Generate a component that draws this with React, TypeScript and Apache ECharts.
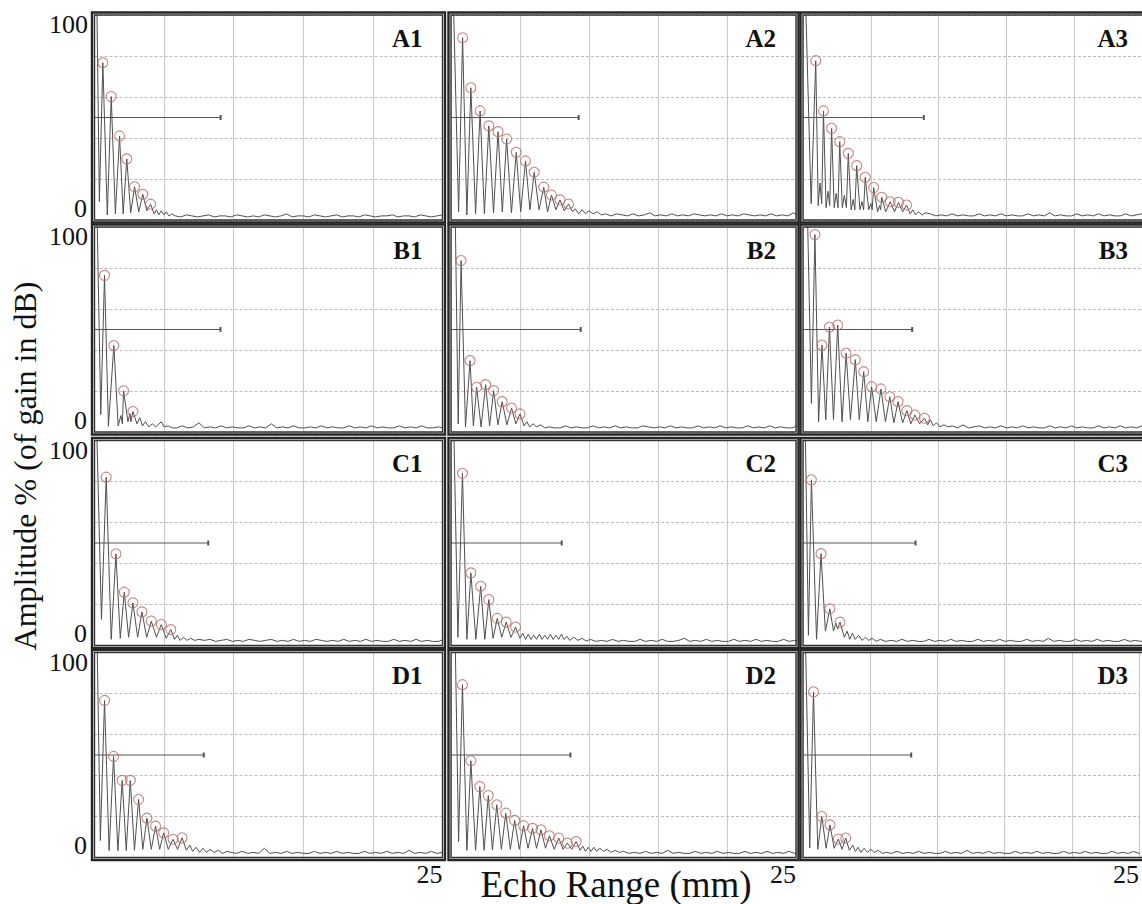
import React, { useEffect, useRef } from "react";
import * as echarts from "echarts";

// ---------- DATA (mm along echo range, % amplitude) ----------
const panelNames = ["A1", "A2", "A3", "B1", "B2", "B3", "C1", "C2", "C3", "D1", "D2", "D3"];
const xMax = 25;
const yMax = 100;
const gateLevel = 50;
const tailStep = 0.4;

// echo peaks (circled)
const A1_peakX = [0.6, 1.2, 1.8, 2.32, 2.88, 3.47, 4.03];
const A1_peakY = [76.7, 60.2, 41, 29.8, 16.2, 12.5, 7.7];
const A2_peakX = [0.84, 1.44, 2.11, 2.74, 3.41, 4.03, 4.73, 5.4, 6.03, 6.72, 7.28, 7.9, 8.52];
const A2_peakY = [88.9, 64.5, 53.2, 45.9, 43.1, 39.5, 33.0, 28.8, 23.3, 16.0, 12.2, 9.8, 7.8];
const A3_peakX = [0.94, 1.51, 2.11, 2.71, 3.34, 3.96, 4.59, 5.21, 5.81, 6.43, 7.04, 7.64];
const A3_peakY = [77.7, 53.2, 44.7, 38.2, 32.5, 26.5, 20.8, 15.8, 11.1, 8.9, 8.6, 7.3];
const B1_peakX = [0.72, 1.39, 2.09, 2.76];
const B1_peakY = [76.4, 42.2, 20.1, 10.0];
const B2_peakX = [0.73, 1.38, 1.86, 2.51, 3.09, 3.71, 4.39, 5.0];
const B2_peakY = [83.6, 34.8, 21.8, 23.1, 20.2, 14.8, 11.7, 8.8];
const B3_peakX = [0.88, 1.4, 1.95, 2.56, 3.18, 3.86, 4.48, 5.06, 5.75, 6.4, 7.01, 7.66, 8.25, 8.96];
const B3_peakY = [96.3, 42.4, 51.1, 52.2, 38.5, 35.3, 29.4, 22.1, 21.0, 17.2, 14.8, 10.4, 8.3, 6.7];
const C1_peakX = [0.84, 1.54, 2.14, 2.76, 3.41, 4.08, 4.8, 5.48];
const C1_peakY = [82.1, 44.7, 26.0, 20.8, 16.4, 11.9, 10.2, 7.8];
const C2_peakX = [0.83, 1.44, 2.15, 2.74, 3.35, 4.0, 4.68];
const C2_peakY = [84.0, 35.4, 28.9, 22.4, 13.2, 11.4, 9.0];
const C3_peakX = [0.62, 1.33, 1.98, 2.73];
const C3_peakY = [80.8, 44.8, 17.9, 11.4];
const D1_peakX = [0.72, 1.37, 1.99, 2.57, 3.17, 3.77, 4.39, 4.97, 5.64, 6.29];
const D1_peakY = [76.6, 49.3, 37.6, 37.6, 28.3, 19.2, 15.3, 12.0, 8.9, 9.6];
const D2_peakX = [0.83, 1.44, 2.09, 2.7, 3.32, 3.97, 4.61, 5.26, 5.91, 6.52, 7.13, 7.81, 8.43, 9.07];
const D2_peakY = [84.3, 47.2, 34.6, 30.2, 25.7, 21.6, 18.1, 15.5, 14.2, 13.5, 10.6, 9.5, 7.0, 7.8];
const D3_peakX = [0.78, 1.4, 2.01, 2.63, 3.18];
const D3_peakY = [80.8, 20.0, 15.9, 9.0, 9.5];

// initial pulse, troughs and early ripples [mm, %]
const A1_rest = [[0.05, 100], [0.18, 100], [0.35, 9], [0.92, 2.5], [1.5, 3], [2.06, 3], [2.6, 3.5], [3.18, 4], [3.76, 4.5], [4.28, 3], [4.45, 5], [4.62, 2.5], [4.8, 4.5], [4.98, 2.5], [5.15, 4], [5.35, 2], [5.55, 3]];
const A2_rest = [[0.1, 100], [0.2, 100], [0.55, 4], [1.15, 2.5], [1.78, 3], [2.42, 3], [3.08, 3.5], [3.72, 4], [4.38, 3.5], [5.05, 4], [5.72, 5], [6.38, 5], [7.0, 4], [7.6, 5], [8.2, 4.5], [8.8, 4], [9.0, 5.5], [9.25, 3], [9.5, 5], [9.75, 3], [10.0, 4.5], [10.3, 3], [10.6, 4], [10.9, 2.5]];
const A3_rest = [[0.12, 100], [0.22, 100], [0.6, 8], [1.12, 7], [1.25, 18], [1.38, 8], [1.7, 6], [1.85, 14], [1.97, 7], [2.3, 6], [2.45, 13], [2.58, 6], [2.9, 6], [3.05, 12], [3.2, 6], [3.55, 5], [3.7, 10], [3.82, 5], [4.2, 5], [4.35, 9], [4.47, 5], [4.85, 5], [5.0, 8], [5.1, 5], [5.5, 4], [5.65, 7], [5.72, 5], [6.1, 4], [6.75, 4], [7.35, 4], [7.9, 3], [8.1, 5], [8.3, 2.5], [8.5, 4], [8.8, 2.5], [9.0, 3.5]];
const B1_rest = [[0.1, 100], [0.2, 100], [0.45, 8.5], [1.0, 2.8], [1.7, 3], [1.9, 8], [2.0, 4], [2.4, 5], [2.55, 9], [2.62, 5], [3.05, 4], [3.25, 7], [3.45, 3], [3.65, 5], [3.9, 2.5], [4.15, 4], [4.4, 2.5], [4.8, 5], [5.0, 2.5], [5.3, 3], [5.6, 2]];
const B2_rest = [[0.2, 100], [0.32, 100], [0.52, 4], [1.05, 2.5], [1.62, 3], [2.18, 2.5], [2.8, 3], [3.4, 3.5], [4.05, 3.5], [4.7, 4], [5.3, 3], [5.5, 5], [5.7, 2.5], [5.95, 4], [6.2, 2.5], [6.5, 3.5], [6.8, 2]];
const B3_rest = [[0.2, 100], [0.35, 100], [0.62, 14], [1.15, 5], [1.68, 6], [2.25, 6], [2.88, 5], [3.5, 6], [4.15, 6], [4.78, 5], [5.4, 5], [6.08, 5], [6.7, 4.5], [7.35, 4.5], [7.95, 4], [8.6, 4], [9.2, 3.5], [9.4, 6], [9.6, 3], [9.85, 4.5], [10.1, 2.5], [10.4, 3.5], [10.7, 2.5]];
const C1_rest = [[0.08, 100], [0.18, 100], [0.5, 12.7], [1.2, 3], [1.85, 3.5], [2.45, 4], [3.1, 4], [3.75, 4], [4.45, 4], [5.15, 3.5], [5.75, 3], [5.95, 5], [6.15, 2.5], [6.4, 4], [6.65, 2.5], [6.9, 3.5], [7.2, 2.5]];
const C2_rest = [[0.1, 100], [0.22, 100], [0.5, 4], [1.15, 3], [1.8, 3], [2.45, 3], [3.05, 3.5], [3.68, 4], [4.35, 4], [5.0, 3.5], [5.2, 6], [5.4, 3], [5.6, 5.5], [5.8, 3], [6.0, 5], [6.2, 3], [6.4, 5.5], [6.6, 3], [6.8, 5], [7.0, 3], [7.2, 5.5], [7.4, 3], [7.6, 5], [7.8, 3], [8.0, 5.5], [8.2, 3], [8.4, 4.5], [8.6, 2.5], [8.9, 4], [9.2, 2.5], [9.5, 3.5], [9.8, 2.2]];
const C3_rest = [[0.08, 100], [0.18, 100], [0.4, 5], [1.0, 3], [1.65, 7], [2.25, 7], [2.42, 11], [2.55, 8], [3.05, 4], [3.25, 7], [3.45, 3], [3.65, 6], [3.85, 3], [4.1, 5], [4.35, 2.5], [4.6, 4], [4.85, 2.5], [5.1, 3.5], [5.4, 2]];
const D1_rest = [[0.1, 100], [0.2, 100], [0.42, 8.3], [1.05, 3.4], [1.68, 3.4], [2.28, 3.4], [2.87, 3.5], [3.47, 4], [4.08, 4], [4.68, 4], [5.3, 4], [5.97, 4], [6.6, 3.5], [6.85, 6], [7.05, 3], [7.3, 5], [7.55, 2.5], [7.8, 4.5], [8.05, 2.5], [8.3, 4], [8.6, 2.5], [8.9, 3.5], [9.2, 2], [9.5, 3]];
const D2_rest = [[0.2, 100], [0.32, 100], [0.55, 7.8], [1.15, 3.5], [1.78, 3.5], [2.4, 3.5], [3.0, 3.8], [3.65, 4], [4.3, 4], [4.95, 4], [5.58, 4.5], [6.2, 4.5], [6.85, 4.5], [7.48, 4], [8.12, 4], [8.75, 4], [9.35, 3.5], [9.55, 5.5], [9.75, 3], [9.95, 5], [10.15, 3], [10.35, 5], [10.55, 3], [10.8, 4.5], [11.05, 3], [11.3, 4], [11.6, 2.5], [11.9, 3.5], [12.2, 2.5]];
const D3_rest = [[0.1, 100], [0.2, 100], [0.5, 4.6], [1.1, 4], [1.72, 4.5], [2.32, 4.5], [2.9, 4], [3.45, 3.5], [3.7, 6], [3.9, 3], [4.1, 5], [4.3, 2.5], [4.55, 4.5], [4.8, 2.5], [5.05, 4], [5.3, 2.5], [5.6, 3.5], [5.9, 2]];

// background noise after the echoes, sampled every tailStep mm from its start
const tailStart = [5.8, 11.2, 9.4, 5.9, 7.1, 11.0, 7.5, 10.1, 5.7, 9.8, 12.5, 6.2];
const A1_tail = [2, 1.5, 2.5, 2, 1.5, 2, 2.5, 1.5, 2, 2, 1.5, 2.5, 2, 1.5, 2, 1.5, 2.5, 2, 1.5, 2, 3, 1.5, 2, 2, 1.5, 2.5, 2, 1.5, 2, 2.5, 1.5, 2, 2, 1.5, 2.5, 2, 1.5, 2, 2, 2.5, 1.5, 2, 2, 1.5, 2.5, 2, 1.5, 2, 2.5, 1.5];
const A2_tail = [3, 2, 3, 2.5, 2, 3, 2, 2.5, 3.5, 2, 2.5, 2, 3, 2, 2.5, 2, 3, 2.5, 2, 2.5, 2, 3, 2, 2.5, 2, 3, 2.5, 2, 2.5, 2, 3, 2, 2.5, 2, 3.5, 2, 2.5, 2, 3, 2, 2.5, 2, 3, 2.5, 2, 2.5, 2, 3, 2, 2.5];
const A3_tail = [3, 2, 2.5, 2, 3, 2, 2.5, 2, 2, 3, 2, 2.5, 2, 3, 2, 2.5, 2, 2, 3, 2, 2.5, 2, 3.5, 2, 2.5, 2, 2, 3, 2, 2.5, 2, 3, 2, 2.5, 2, 2, 3, 2, 2.5, 3, 2, 2.5, 2, 3, 2, 2.5, 2, 3, 2, 2.5];
const B1_tail = [2, 3, 2, 2.5, 4.5, 2, 2.5, 2, 3, 2, 2.5, 2, 2, 3, 2, 2.5, 2, 4, 2, 2.5, 2, 3, 2, 2, 2.5, 2, 3, 2, 2.5, 2, 2, 3, 2, 2.5, 2, 3, 2, 2.5, 2, 2, 3, 2, 2.5, 2, 3, 2, 2, 2.5, 2, 3];
const B2_tail = [2.5, 2, 2, 3, 2, 2.5, 2, 2, 3, 2, 2.5, 2, 3, 2, 2.5, 2, 2, 3, 2.5, 2, 2.5, 2, 3, 2, 2.5, 2, 2, 3, 2, 2.5, 2, 3, 2, 2.5, 2, 2, 3, 2, 2.5, 2, 3, 2, 2.5, 2, 2, 3, 2, 2.5, 2, 2];
const B3_tail = [3, 2, 3.5, 2, 2.5, 3, 2, 2.5, 2, 3, 2, 2.5, 2, 3, 2, 2.5, 2, 2, 3, 2, 2.5, 2, 3, 2, 2.5, 2, 2, 3, 2, 2.5, 2, 3, 2, 2.5, 2, 3, 2, 2.5, 2, 2, 3, 2, 2.5, 2, 3, 2, 2.5, 2, 2, 3];
const C1_tail = [3, 2.5, 3, 2, 2.5, 3, 2, 2.5, 2, 3, 2.5, 2, 2.5, 3, 2, 2.5, 2, 3, 2, 2.5, 2, 3, 2.5, 2, 2.5, 2, 3, 2, 2.5, 2, 3, 2, 2.5, 2, 2, 3, 2, 2.5, 2, 3, 2, 2.5, 2, 2, 3, 2, 2.5, 2, 3, 2];
const C2_tail = [3, 2, 2.5, 2, 3, 2, 2.5, 2, 2, 3, 2, 2.5, 2, 3, 2, 2, 2.5, 3.5, 2, 2.5, 2, 3, 2, 2.5, 2, 2, 3, 2, 2.5, 2, 3, 2, 2.5, 2, 2, 3, 2, 2.5, 2, 3, 2, 2.5, 2, 2, 3, 2, 2.5, 2, 3, 2];
const C3_tail = [3, 2, 2.5, 2, 3, 2, 2.5, 2, 2, 3, 2, 2.5, 2, 3, 2, 2.5, 2, 2, 3, 2, 2.5, 2, 3, 2, 2.5, 2, 2, 3, 2, 2.5, 2, 3.5, 2, 2.5, 2, 2, 3, 2, 2.5, 2, 3, 2, 2.5, 2, 2, 3, 2, 2.5, 2, 3];
const D1_tail = [2.5, 2, 3, 2, 2.5, 2, 4.5, 2, 2.5, 2, 3, 2, 2.5, 2, 2, 3, 2, 2.5, 2, 3, 2, 2.5, 2, 2, 3, 2, 2.5, 2, 3, 2, 2.5, 2, 3.5, 2, 2.5, 2, 3, 2, 2.5, 2, 2, 3, 2, 2.5, 2, 3, 2, 2.5, 2, 2];
const D2_tail = [3, 2, 2.5, 2, 3, 2, 2.5, 2, 3.5, 2, 2.5, 2, 2, 3, 2, 2.5, 2, 3, 2, 2.5, 2, 2, 3, 2, 2.5, 2, 3, 2, 2.5, 2, 3, 2, 2.5, 2, 2, 3, 2, 2.5, 2, 3, 2, 2.5, 2, 2, 3, 2, 2.5, 2, 3, 2];
const D3_tail = [2.5, 2, 3, 2, 2.5, 2, 3, 2, 2.5, 2, 2, 3, 2, 2.5, 2, 3.5, 2, 2.5, 2, 3, 2, 2.5, 2, 2, 3, 2, 2.5, 2, 3, 2, 2.5, 2, 2, 3, 2, 2.5, 2, 3, 2, 2.5, 2, 2, 3, 2, 2.5, 2, 3, 2, 2.5, 2];

// gate (horizontal line at 50 %) end positions, mm
const gateEnd = [9.06, 9.25, 8.91, 9.05, 9.4, 8.05, 8.17, 8.02, 8.3, 7.85, 8.65, 8.05];

const peakXs = [A1_peakX, A2_peakX, A3_peakX, B1_peakX, B2_peakX, B3_peakX, C1_peakX, C2_peakX, C3_peakX, D1_peakX, D2_peakX, D3_peakX];
const peakYs = [A1_peakY, A2_peakY, A3_peakY, B1_peakY, B2_peakY, B3_peakY, C1_peakY, C2_peakY, C3_peakY, D1_peakY, D2_peakY, D3_peakY];
const rests = [A1_rest, A2_rest, A3_rest, B1_rest, B2_rest, B3_rest, C1_rest, C2_rest, C3_rest, D1_rest, D2_rest, D3_rest];
const tails = [A1_tail, A2_tail, A3_tail, B1_tail, B2_tail, B3_tail, C1_tail, C2_tail, C3_tail, D1_tail, D2_tail, D3_tail];

// ---------- LAYOUT ----------
const COL_LEFT = [94.5, 451, 803];
const COL_W = [348, 345, 345];
const ROW_TOP = [15, 227, 440.5, 652.5];
const ROW_H = 205;
const SERIF = "'Liberation Serif', 'Times New Roman', serif";

export default function App() {
  const ref = useRef<HTMLDivElement>(null);

  useEffect(() => {
    if (!ref.current) return;
    const chart = echarts.init(ref.current, undefined, { renderer: "svg" });

    const grids: any[] = [];
    const xAxes: any[] = [];
    const yAxes: any[] = [];
    const series: any[] = [];
    const graphics: any[] = [];

    panelNames.forEach((name, i) => {
      const r = Math.floor(i / 3);
      const c = i % 3;
      const L = COL_LEFT[c];
      const W = COL_W[c];
      const T = ROW_TOP[r];
      const H = ROW_H;

      grids.push({ left: L, top: T, width: W, height: H, show: false, containLabel: false });
      xAxes.push({
        type: "value",
        gridIndex: i,
        min: 0,
        max: xMax,
        interval: 5,
        axisLine: { show: false },
        axisTick: { show: false },
        axisLabel:
          r === 3
            ? {
                show: true,
                formatter: (v: number) => (v === xMax ? String(xMax) : ""),
                align: "right",
                margin: 4,
                fontSize: 26,
                fontFamily: SERIF,
                color: "#111",
              }
            : { show: false },
        splitLine: { show: true, lineStyle: { color: "#c8c8c8", width: 1 } },
      });
      yAxes.push({
        type: "value",
        gridIndex: i,
        min: 0,
        max: yMax,
        interval: 20,
        axisLine: { show: false },
        axisTick: { show: false },
        axisLabel: { show: false },
        splitLine: { show: true, lineStyle: { color: "#bdbdbd", width: 1, type: [3, 2] } },
      });

      const peaks = peakXs[i].map((x, k) => [x, peakYs[i][k]]);
      const tail = tails[i].map((y, k) => [tailStart[i] + k * tailStep, y]);
      const trace = [...peaks, ...rests[i], ...tail].sort((a, b) => a[0] - b[0]);

      series.push({
        type: "line",
        xAxisIndex: i,
        yAxisIndex: i,
        data: trace,
        showSymbol: false,
        silent: true,
        clip: true,
        lineStyle: { color: "#505050", width: 1 },
        z: 3,
      });
      series.push({
        type: "line",
        xAxisIndex: i,
        yAxisIndex: i,
        silent: true,
        data: [
          { value: [0, gateLevel], symbol: "none" },
          { value: [gateEnd[i], gateLevel], symbol: "rect", symbolSize: [2, 5] },
        ],
        showSymbol: true,
        itemStyle: { color: "#555" },
        lineStyle: { color: "#555", width: 1 },
        z: 2,
      });
      series.push({
        type: "scatter",
        xAxisIndex: i,
        yAxisIndex: i,
        silent: true,
        data: peaks,
        symbol: "circle",
        symbolSize: 10,
        itemStyle: { color: "rgba(255,255,255,0)", borderColor: "#b56a6a", borderWidth: 1.1 },
        z: 4,
      });

      // double frame
      graphics.push({
        type: "rect",
        shape: { x: L - 2.5, y: T - 2.5, width: W + 5, height: H + 5 },
        style: { fill: "none", stroke: "#262626", lineWidth: 2.4 },
        silent: true,
        z: 10,
      });
      graphics.push({
        type: "rect",
        shape: { x: L, y: T, width: W, height: H },
        style: { fill: "none", stroke: "#333333", lineWidth: 1.4 },
        silent: true,
        z: 10,
      });
      // panel label
      graphics.push({
        type: "text",
        x: L + W - 20,
        y: T + 23,
        style: {
          text: name,
          font: `bold 25px ${SERIF}`,
          fill: "#111",
          align: "right",
          verticalAlign: "middle",
          textAlign: "right",
          textVerticalAlign: "middle",
        },
        z: 11,
      });
      if (c === 0) {
        graphics.push({
          type: "text",
          x: 88,
          y: T + 9.5,
          style: {
            text: String(yMax),
            font: `26px ${SERIF}`,
            fill: "#111",
            align: "right",
            verticalAlign: "middle",
            textAlign: "right",
            textVerticalAlign: "middle",
          },
        });
        graphics.push({
          type: "text",
          x: 87,
          y: T + H - 12,
          style: {
            text: "0",
            font: `26px ${SERIF}`,
            fill: "#111",
            align: "right",
            verticalAlign: "middle",
            textAlign: "right",
            textVerticalAlign: "middle",
          },
        });
      }
    });

    graphics.push({
      type: "text",
      x: 616,
      y: 884,
      style: {
        text: "Echo Range (mm)",
        font: `37px ${SERIF}`,
        fill: "#111",
        align: "center",
        verticalAlign: "middle",
        textAlign: "center",
        textVerticalAlign: "middle",
      },
    });
    graphics.push({
      type: "text",
      x: 25,
      y: 466,
      rotation: Math.PI / 2,
      style: {
        text: "Amplitude % (of gain in dB)",
        font: `32px ${SERIF}`,
        fill: "#111",
        align: "center",
        verticalAlign: "middle",
        textAlign: "center",
        textVerticalAlign: "middle",
      },
    });

    chart.setOption({
      animation: false,
      backgroundColor: "#ffffff",
      grid: grids,
      xAxis: xAxes,
      yAxis: yAxes,
      series,
      graphic: { elements: graphics },
    });

    return () => chart.dispose();
  }, []);

  return (
    <div
      ref={ref}
      style={{ position: "absolute", left: 0, top: 0, width: 1142, height: 904 }}
    />
  );
}
